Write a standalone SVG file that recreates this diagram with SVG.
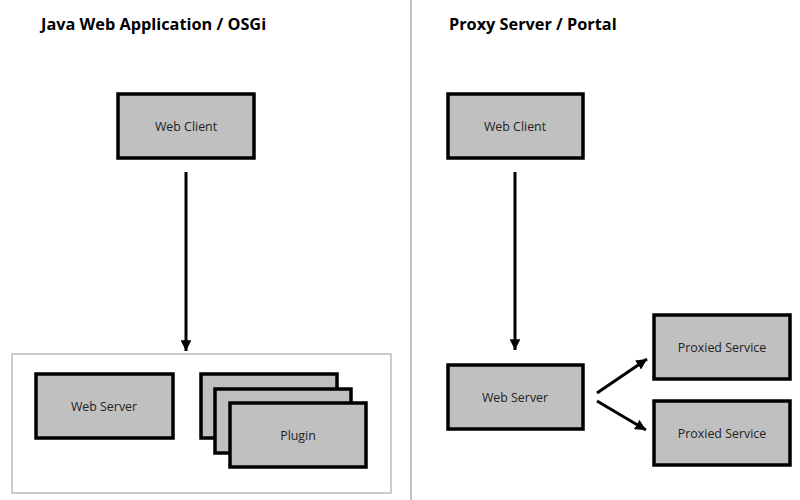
<svg xmlns="http://www.w3.org/2000/svg" width="800" height="500" viewBox="0 0 800 500">
<defs>
<style>
.box{fill:#c0c0c0;stroke:#000;stroke-width:3.5}
.lbl{font-family:"Open Sans","Liberation Sans",sans-serif;font-size:12.4px;fill:#222;text-anchor:middle}
.title{font-family:"Open Sans","Liberation Sans",sans-serif;font-size:16.3px;font-weight:bold;fill:#000}
.conn{stroke:#000;stroke-width:3;fill:none;marker-end:url(#ah)}
</style>
<marker id="ah" viewBox="0 0 10 10" refX="10" refY="5" markerWidth="3.6" markerHeight="3.6" orient="auto" markerUnits="strokeWidth">
<path d="M0,0 L10,5 L0,10 Z" fill="#000"/>
</marker>
</defs>
<rect width="800" height="500" fill="#fff"/>
<line x1="411" y1="0" x2="411" y2="500" stroke="#888" stroke-width="1"/>
<text class="title" x="41" y="30">Java Web Application / OSGi</text>
<text class="title" x="449" y="30">Proxy Server / Portal</text>
<g id="container-left"><rect x="12" y="354" width="379" height="139" fill="#fff" stroke="#999" stroke-width="1"/></g>
<g id="web-client-left"><rect class="box" x="118" y="94" width="136" height="64"/><text class="lbl" x="186" y="131">Web Client</text></g>
<g id="web-server-left"><rect class="box" x="36" y="374" width="137" height="64"/><text class="lbl" x="104" y="411">Web Server</text></g>
<g id="plugin-1"><rect class="box" x="201" y="374" width="136" height="64"/></g>
<g id="plugin-2"><rect class="box" x="215" y="389" width="136" height="64"/></g>
<g id="plugin-3"><rect class="box" x="230" y="403" width="136" height="64"/><text class="lbl" x="298" y="440">Plugin</text></g>
<g id="web-client-right"><rect class="box" x="448" y="94" width="135" height="64"/><text class="lbl" x="515" y="131">Web Client</text></g>
<g id="web-server-right"><rect class="box" x="448" y="365" width="135" height="64"/><text class="lbl" x="515" y="402">Web Server</text></g>
<g id="proxied-1"><rect class="box" x="654" y="315" width="136" height="64"/><text class="lbl" x="722" y="352">Proxied Service</text></g>
<g id="proxied-2"><rect class="box" x="654" y="401" width="136" height="64"/><text class="lbl" x="722" y="438">Proxied Service</text></g>
<g id="connectors">
<line class="conn" x1="186" y1="172" x2="186" y2="351"/>
<line class="conn" x1="515" y1="172" x2="515" y2="350"/>
<line class="conn" x1="597" y1="393" x2="647" y2="359"/>
<line class="conn" x1="597" y1="401" x2="646" y2="430"/>
</g>
</svg>
